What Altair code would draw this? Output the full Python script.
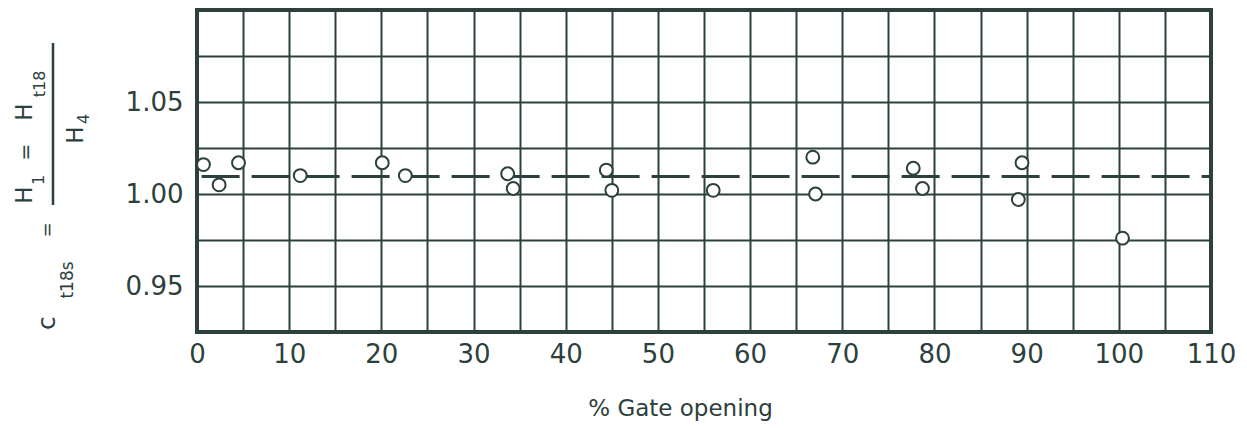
import altair as alt
import pandas as pd

# Data
gate_opening = [0.7, 2.4, 4.5, 11.2, 20.1, 22.6, 33.7, 34.3, 44.4, 45.0, 56.0,
                66.8, 67.1, 77.7, 78.7, 89.5, 89.1, 100.4]
coefficient = [1.016, 1.005, 1.017, 1.010, 1.017, 1.010, 1.011, 1.003, 1.013,
               1.002, 1.002, 1.020, 1.000, 1.014, 1.003, 1.017, 0.997, 0.976]
mean_line_x = [0.5, 110]
mean_line_y = [1.0095, 1.0095]
x_grid = list(range(0, 115, 5))
y_grid = [0.925, 0.95, 0.975, 1.00, 1.025, 1.05, 1.075, 1.10]
y_label_values = ["0.95", "1.00", "1.05"]

# y-axis title pieces (fraction built from main text + subscripts)
title_parts = ["H", "1", "=", "H", "t18", "H", "4", "c", "t18s", "="]
title_sizes = [23, 16, 20, 23, 16, 23, 16, 25, 17, 18]

INK = "#2c403d"
FONT = "DejaVu Sans"

pts = pd.DataFrame({"gate": gate_opening, "c": coefficient})
line_df = pd.DataFrame({"gate": mean_line_x, "c": mean_line_y})

x_scale = alt.Scale(domain=[0, 110], nice=False, zero=False)
y_scale = alt.Scale(domain=[0.925, 1.10], nice=False, zero=False)

x_axis = alt.Axis(
    values=x_grid,
    labelExpr="datum.value % 10 == 0 ? datum.label : ''",
    grid=True, gridColor=INK, gridWidth=2, gridOpacity=1,
    ticks=False, domain=False,
    labelFont=FONT, labelFontSize=26, labelColor=INK, labelPadding=9,
    labelFlush=False,
    title="% Gate opening", titleFont=FONT, titleFontSize=23,
    titleFontWeight="normal", titleColor=INK,
    titleX=483, titleY=83, titleAlign="center", titleBaseline="alphabetic",
)
y_axis = alt.Axis(
    values=y_grid,
    labelExpr="indexof(" + str(y_label_values) + ", format(datum.value, '.2f')) >= 0 ? format(datum.value, '.2f') : ''",
    grid=True, gridColor=INK, gridWidth=2, gridOpacity=1,
    ticks=False, domain=False,
    labelFont=FONT, labelFontSize=26, labelColor=INK, labelPadding=14,
    title=None,
)

base_line = alt.Chart(line_df).mark_line(
    color=INK, strokeWidth=3, strokeDash=[38, 12]
).encode(
    x=alt.X("gate:Q", scale=x_scale, axis=x_axis),
    y=alt.Y("c:Q", scale=y_scale, axis=y_axis),
)

points = alt.Chart(pts).mark_point(
    shape="circle", size=165, filled=False, fill="white", fillOpacity=1,
    stroke=INK, strokeWidth=2, opacity=1,
).encode(
    x=alt.X("gate:Q", scale=x_scale),
    y=alt.Y("c:Q", scale=y_scale),
)

# placement of the title pieces (baseline position left of the plot, rotated)
lab_df = pd.DataFrame({
    "t": title_parts,
    "fs": title_sizes,
    "px": [-165, -153, -165, -165, -152, -114, -108, -142, -124, -144],
    "py": [185, 170, 142, 102, 74, 125, 109, 313, 270, 220],
})
title_text = alt.Chart(lab_df).mark_text(
    angle=270, font=FONT, color=INK, align="center", baseline="alphabetic"
).encode(
    text="t:N",
    size=alt.Size("fs:Q", scale=None, legend=None),
    x=alt.X("px:Q", scale=None),
    y=alt.Y("py:Q", scale=None),
)
frac_bar = alt.Chart(pd.DataFrame({"a": [0]})).mark_rule(
    color=INK, strokeWidth=2.5
).encode(x=alt.value(-144), y=alt.value(33), y2=alt.value(195))

chart = alt.layer(base_line, points, title_text, frac_bar).properties(
    width=1014, height=322,
    autosize=alt.AutoSizeParams(type="none"),
    padding={"left": 189, "top": 2, "right": 28, "bottom": 90},
    background="white",
).configure_view(
    stroke=INK, strokeWidth=4
)

chart.save("out.html", embed_options={"renderer": "svg", "actions": False})
